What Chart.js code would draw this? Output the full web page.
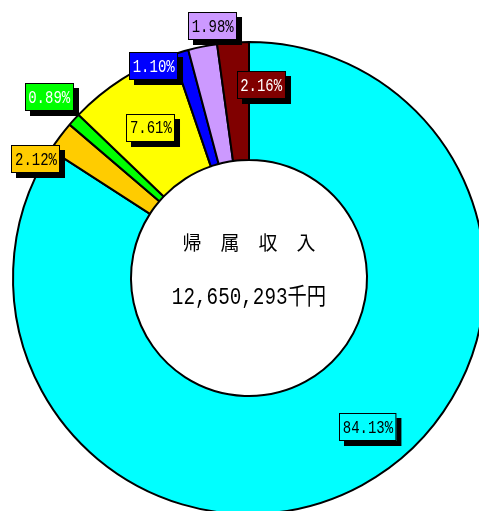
<!DOCTYPE html>
<html lang="ja">
  <head>
    <meta charset="UTF-8" />
    <title>帰属収入</title>
    <script src="https://cdn.jsdelivr.net/npm/chart.js@4/dist/chart.umd.min.js"></script>
    <style>
      html, body { margin: 0; padding: 0; background: #fff; overflow: hidden; width: 479px; height: 511px; }
      #wrap { position: absolute; left: 0; top: 0; width: 500px; height: 530px; }
    </style>
  </head>
  <body>
    <div id="wrap"><canvas id="pie" width="500" height="530"></canvas></div>

    <script>
      // データ（時計回り、12時の位置から）
      const categories = ["区分1", "区分2", "区分3", "区分4", "区分5", "区分6", "区分7"];
      const shares = [84.13, 2.12, 0.89, 7.61, 1.1, 1.98, 2.16];
      const shareLabels = ["84.13%", "2.12%", "0.89%", "7.61%", "1.10%", "1.98%", "2.16%"];
      const centerTitle = "帰　属　収　入";
      const centerTotal = "12,650,293千円";

      const fills = ["#00ffff", "#ffcc00", "#00ff00", "#ffff00", "#0000ff", "#cc99ff", "#800000"];
      const textColors = ["#000", "#000", "#fff", "#000", "#fff", "#000", "#fff"];
      // ラベル位置: [角度(12時から時計回り), 外半径に対する比]
      const labelSpots = [[141.4, 0.808], [299.2, 1.034], [312.1, 1.141], [326.9, 0.761], [335.8, 0.985], [351.8, 1.079], [3.6, 0.82]];

      const labelPlugin = {
        id: "labels",
        afterDatasetsDraw(chart) {
          const ctx = chart.ctx;
          const arcs = chart.getDatasetMeta(0).data;
          const cx = arcs[0].x, cy = arcs[0].y, R = arcs[0].outerRadius;

          // 中央の文字
          ctx.save();
          ctx.fillStyle = "#000";
          ctx.textAlign = "center";
          ctx.textBaseline = "middle";
          ctx.font = '19px "Noto Sans CJK JP"';
          ctx.fillText(centerTitle, cx, cy - 35);
          ctx.translate(cx, cy + 20);
          ctx.scale(1, 1.2);
          ctx.font = '19.3px "Liberation Mono", "Noto Sans CJK JP"';
          ctx.fillText(centerTotal, 0, 0);
          ctx.restore();

          // 各区分の％ラベル
          ctx.save();
          ctx.font = '14px "Liberation Mono"';
          ctx.textAlign = "center";
          ctx.textBaseline = "middle";
          shareLabels.forEach((txt, i) => {
            const a = labelSpots[i][0] * Math.PI / 180;
            const r = labelSpots[i][1] * R;
            const x = cx + Math.sin(a) * r;
            const y = cy - Math.cos(a) * r;
            const w = ctx.measureText(txt).width + 7;
            const h = 28;
            const left = Math.round(x - w / 2), top = Math.round(y - h / 2);
            ctx.fillStyle = "#000";
            ctx.fillRect(left + 5, top + 5, w, h);
            ctx.fillStyle = fills[i];
            ctx.fillRect(left, top, w, h);
            ctx.strokeStyle = "#000";
            ctx.lineWidth = 1;
            ctx.strokeRect(left + 0.5, top + 0.5, w - 1, h - 1);
            ctx.save();
            ctx.translate(x, y + 1);
            ctx.scale(1, 1.3);
            ctx.fillStyle = textColors[i];
            ctx.fillText(txt, 0, 0);
            ctx.restore();
          });
          ctx.restore();
        },
      };

      new Chart(document.getElementById("pie"), {
        type: "doughnut",
        data: {
          labels: categories,
          datasets: [
            {
              data: shares,
              backgroundColor: fills,
              borderColor: "#000",
              borderWidth: 2,
            },
          ],
        },
        options: {
          responsive: false,
          animation: false,
          cutout: "50%",
          layout: { padding: { left: 12, top: 41, right: 14, bottom: 15 } },
          plugins: {
            legend: { display: false },
            tooltip: { enabled: false },
          },
        },
        plugins: [labelPlugin],
      });
    </script>
  </body>
</html>
